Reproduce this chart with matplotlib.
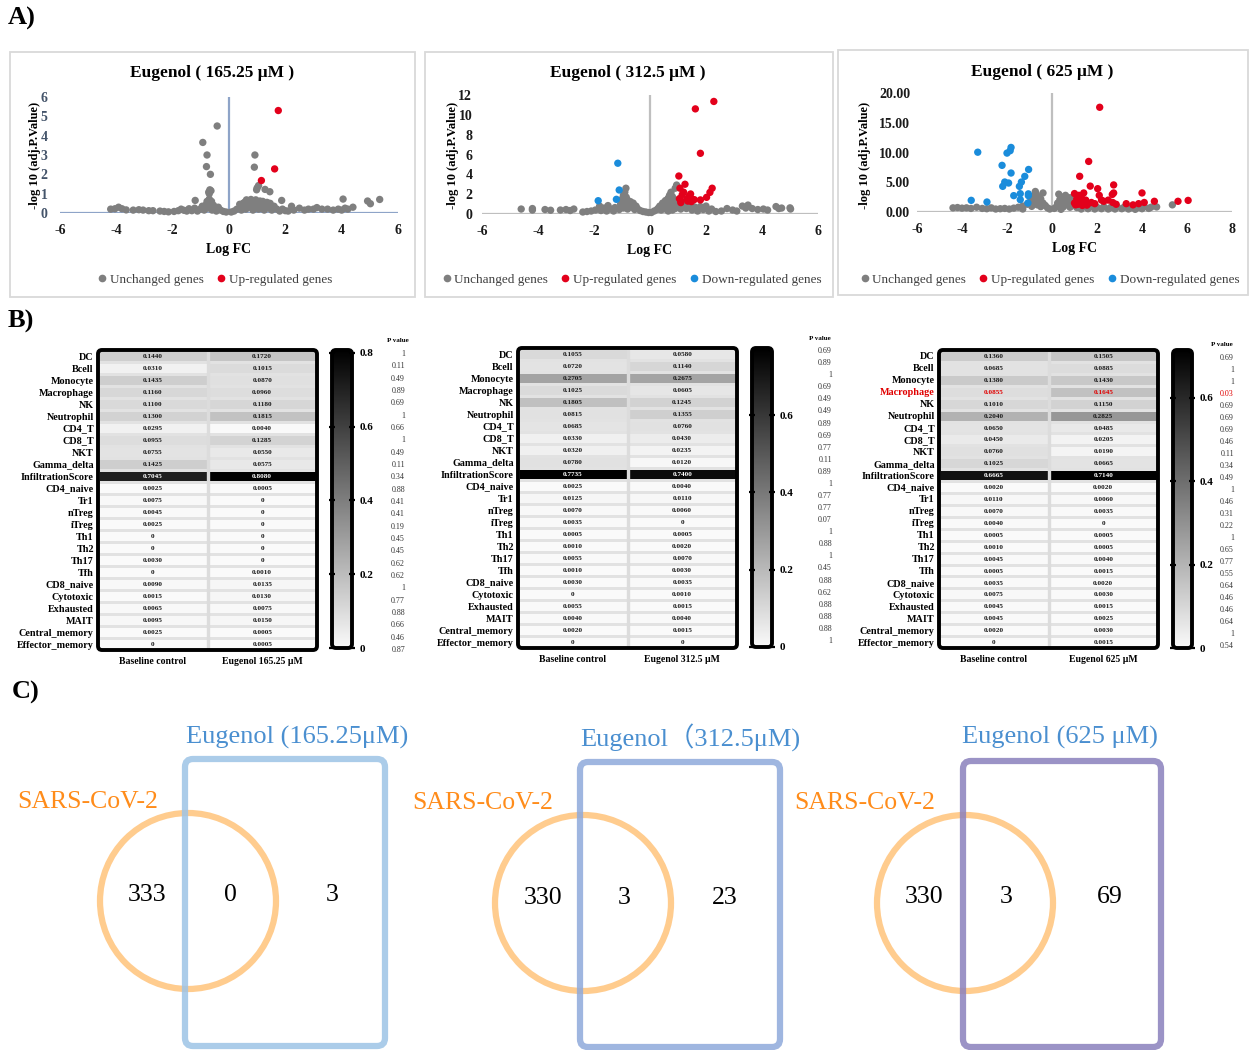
import numpy as np
import matplotlib
matplotlib.use("Agg")
import matplotlib.pyplot as plt
from matplotlib.patches import Circle, FancyBboxPatch, Rectangle
from matplotlib.colors import LinearSegmentedColormap
from matplotlib.lines import Line2D

plt.rcParams['font.family'] = ['Liberation Serif', 'Noto Sans CJK SC', 'DejaVu Sans']
plt.rcParams['axes.unicode_minus'] = False

# ---------------------------------------------------------------- data
# Volcano plots: (logFC, -log10 adj.P) pairs
v1_unchanged = [
    (-0.42, 4.5), (-0.93, 3.65), (-0.78, 3.0), (-0.8, 2.4), (-0.66, 2.0), (-0.68, 1.2),
    (-0.72, 1.08), (-0.64, 1.15), (-0.7, 1.0), (-1.2, 0.65), (0.92, 3.0), (0.9, 2.37),
    (1.05, 1.42), (1.0, 1.3), (0.98, 1.2), (1.28, 1.22), (1.45, 1.1), (1.87, 0.65),
    (4.05, 0.72), (4.92, 0.62), (5.02, 0.48), (5.35, 0.7),
    (-4.2, 0.2), (-4.05, 0.22), (-3.92, 0.3), (-3.8, 0.22), (-3.65, 0.16), (-3.4, 0.15),
    (-3.2, 0.17), (-3.05, 0.15), (-2.85, 0.12), (-2.7, 0.12), (-2.45, 0.1), (-2.3, 0.08),
    (-2.15, 0.06), (-1.95, 0.08), (-1.8, 0.12), (-1.7, 0.2), (-1.6, 0.14), (-1.5, 0.1),
    (-1.42, 0.22), (-1.32, 0.12), (-1.22, 0.25), (-1.12, 0.1), (-1.02, 0.2), (-0.95, 0.35),
    (-0.88, 0.15), (-0.82, 0.42), (-0.76, 0.25), (-0.72, 0.55), (-0.66, 0.32), (-0.6, 0.15),
    (-0.55, 0.4), (-0.5, 0.22), (-0.45, 0.1), (-0.38, 0.3), (-0.3, 0.15), (-0.2, 0.08),
    (-0.1, 0.05), (0.08, 0.05), (0.18, 0.1), (0.28, 0.2), (0.38, 0.45), (0.44, 0.15),
    (0.5, 0.3), (0.55, 0.55), (0.6, 0.2), (0.66, 0.4), (0.7, 0.62), (0.75, 0.3),
    (0.8, 0.5), (0.85, 0.15), (0.88, 0.62), (0.95, 0.35), (1.0, 0.55), (1.05, 0.2),
    (1.1, 0.45), (1.15, 0.3), (1.2, 0.6), (1.25, 0.15), (1.32, 0.4), (1.4, 0.25),
    (1.46, 0.5), (1.52, 0.15), (1.6, 0.35), (1.7, 0.2), (1.8, 0.1), (1.9, 0.2),
    (2.0, 0.12), (2.1, 0.1), (2.22, 0.35), (2.3, 0.15), (2.5, 0.25), (2.68, 0.15),
    (2.82, 0.2), (3.0, 0.2), (3.12, 0.28), (3.3, 0.2), (3.5, 0.2), (3.7, 0.15),
    (3.88, 0.2), (4.0, 0.15), (4.12, 0.25), (4.22, 0.2), (4.4, 0.3),
    (-0.78, 0.6), (-0.7, 0.72), (-0.62, 0.6), (0.62, 0.68), (0.78, 0.7), (0.95, 0.68),
    (1.1, 0.62), (0.5, 0.5), (0.72, 0.45), (0.9, 0.45), (1.2, 0.3), (1.35, 0.55),
]
v1_up = [(1.75, 5.3), (1.62, 2.28), (1.15, 1.68)]
v1_down = []

v2_unchanged = [
    (-0.86, 2.6), (-0.9, 2.2), (-0.95, 1.9), (-0.85, 1.7), (-1.0, 1.5), (-0.8, 1.4),
    (-0.7, 1.25), (-0.6, 1.1), (-0.9, 1.15), (-1.05, 1.0), (-0.75, 0.95), (-0.5, 0.8),
    (-1.5, 0.85), (-1.8, 0.8), (-1.65, 0.6),
    (0.95, 2.92), (0.9, 2.6), (0.75, 2.2), (0.7, 1.9), (0.8, 1.75), (0.65, 1.6),
    (0.85, 1.5), (0.55, 1.35), (0.75, 1.3), (0.95, 1.2), (0.45, 1.1), (0.6, 1.0),
    (0.85, 0.95), (0.35, 0.8), (0.5, 0.7), (0.7, 0.65), (1.0, 0.8), (1.2, 0.9),
    (1.4, 0.85), (1.6, 0.7), (1.8, 0.75), (2.0, 0.8), (2.2, 0.5),
    (-4.6, 0.5), (-4.2, 0.55), (-4.2, 0.4), (-3.75, 0.45), (-3.55, 0.38), (-3.2, 0.4),
    (-3.0, 0.45), (-2.85, 0.35), (-2.72, 0.5), (-2.4, 0.2), (-2.25, 0.25), (-2.1, 0.3),
    (-1.95, 0.4), (-1.75, 0.35), (-1.55, 0.3), (-1.4, 0.5), (-1.25, 0.65), (-1.3, 0.3),
    (-1.1, 0.45), (-0.95, 0.6), (-0.8, 0.5), (-0.65, 0.7), (-0.55, 0.45), (-0.45, 0.55),
    (-0.35, 0.35), (-0.25, 0.25), (-0.15, 0.2), (-0.05, 0.15), (0.05, 0.15), (0.15, 0.3),
    (0.25, 0.45), (0.3, 0.6), (0.4, 0.4), (0.55, 0.5), (0.65, 0.3), (0.8, 0.4),
    (0.9, 0.55), (1.1, 0.5), (1.3, 0.55), (1.5, 0.4), (1.7, 0.3), (1.9, 0.45),
    (2.1, 0.3), (2.35, 0.25), (2.55, 0.3), (2.75, 0.55), (2.95, 0.4), (3.1, 0.3),
    (3.3, 0.8), (3.42, 0.6), (3.5, 0.9), (3.65, 0.55), (3.85, 0.45), (4.05, 0.5),
    (4.2, 0.4), (4.5, 0.75), (4.6, 0.55), (4.7, 0.6), (5.0, 0.62), (5.02, 0.5),
]
v2_up = [
    (2.28, 11.35), (1.62, 10.6), (1.8, 6.12), (1.03, 3.83), (1.25, 3.0), (1.07, 2.6),
    (2.22, 2.6), (2.14, 2.18), (2.02, 1.68), (1.8, 1.42), (1.45, 2.02), (1.4, 1.8),
    (1.32, 1.5), (1.5, 1.5), (1.1, 1.35), (1.05, 1.55), (1.15, 1.95), (1.35, 1.3),
    (1.2, 2.2), (1.48, 1.25), (1.58, 1.45), (1.1, 1.15),
]
v2_down = [(-1.15, 5.12), (-1.1, 2.42), (-1.2, 1.48), (-1.85, 1.34)]

v3_unchanged = [
    (-0.74, 3.45), (-0.4, 3.2), (-0.7, 3.0), (-0.8, 2.7), (-0.6, 2.5), (-0.9, 2.3),
    (-0.5, 2.2), (-0.75, 2.0), (-0.95, 1.8), (-0.6, 1.7), (-0.4, 1.5), (-0.85, 1.4),
    (-1.1, 1.3), (-0.65, 1.2), (-0.3, 1.1), (-1.3, 1.0), (-0.9, 0.95), (-0.5, 0.9),
    (-0.2, 0.7), (-1.5, 0.8), (-0.1, 0.5),
    (0.3, 3.0), (0.6, 2.8), (0.45, 2.5), (0.8, 2.4), (0.35, 2.1), (0.7, 2.0),
    (0.9, 1.9), (0.5, 1.7), (0.25, 1.5), (0.75, 1.5), (1.0, 1.4), (0.4, 1.25),
    (0.6, 1.2), (0.9, 1.1), (1.2, 1.0), (0.2, 0.9), (0.5, 0.85), (0.8, 0.8),
    (1.1, 0.75), (0.1, 0.6), (1.4, 0.9), (1.7, 0.9), (2.0, 0.8), (2.3, 0.9),
    (2.6, 0.75), (2.9, 0.85), (3.2, 0.8), (3.5, 0.7), (3.8, 0.75), (4.1, 0.9),
    (4.4, 0.8), (4.65, 0.85), (5.35, 1.2),
    (-4.4, 0.7), (-4.2, 0.75), (-4.0, 0.65), (-3.8, 0.7), (-3.6, 0.6), (-3.35, 0.8),
    (-3.1, 0.6), (-2.9, 0.55), (-2.7, 0.7), (-2.5, 0.5), (-2.3, 0.55), (-2.1, 0.6),
    (-1.9, 0.5), (-1.7, 0.65), (-1.3, 0.5),
    (1.3, 0.5), (1.6, 0.55), (1.9, 0.5), (2.2, 0.55), (2.5, 0.5), (2.8, 0.5),
    (3.1, 0.55), (3.4, 0.5), (3.7, 0.45), (4.0, 0.55), (4.3, 0.6), (0.4, 0.45),
]
v3_up = [
    (2.12, 17.6), (1.63, 8.5), (1.23, 6.0), (1.7, 4.35), (2.03, 3.92), (2.1, 2.8),
    (2.74, 4.55), (2.74, 3.2), (2.68, 2.95), (4.0, 3.2), (1.41, 3.2), (1.0, 3.1),
    (1.2, 2.8), (1.3, 2.5), (1.0, 1.5), (1.05, 1.2), (1.25, 1.5), (1.4, 1.8),
    (1.6, 1.4), (1.75, 1.6), (1.9, 1.4), (2.3, 1.8), (2.5, 2.0), (2.7, 1.6),
    (2.85, 1.3), (3.3, 1.4), (3.6, 1.2), (3.85, 1.4), (4.1, 1.6), (4.55, 1.8),
    (5.6, 1.8), (6.05, 1.95), (1.15, 1.3), (1.5, 2.0), (1.35, 1.1), (2.2, 2.0),
    (1.1, 2.2), (1.45, 1.4), (1.3, 1.9), (1.55, 1.15),
]
v3_down = [
    (-3.3, 10.05), (-1.82, 10.85), (-1.86, 10.3), (-2.0, 9.9), (-2.22, 7.84), (-1.82, 6.55),
    (-1.04, 7.15), (-1.21, 5.99), (-1.36, 5.04), (-1.45, 4.31), (-2.1, 5.04), (-2.19, 4.31),
    (-1.93, 4.87), (-1.41, 3.08), (-1.05, 2.75), (-1.05, 3.05), (-1.7, 2.75), (-1.41, 2.07),
    (-1.07, 1.51), (-3.59, 1.96), (-2.89, 1.68),
]

volcano_titles = ["Eugenol ( 165.25 μM )", "Eugenol ( 312.5 μM )", "Eugenol ( 625 μM )"]

# Immune infiltration estimates
cell_types = ["DC", "Bcell", "Monocyte", "Macrophage", "NK", "Neutrophil", "CD4_T", "CD8_T",
              "NKT", "Gamma_delta", "InfiltrationScore", "CD4_naive", "Tr1", "nTreg", "iTreg",
              "Th1", "Th2", "Th17", "Tfh", "CD8_naive", "Cytotoxic", "Exhausted", "MAIT",
              "Central_memory", "Effector_memory"]

h1_base = [0.1440, 0.0310, 0.1435, 0.1160, 0.1100, 0.1300, 0.0295, 0.0955, 0.0755, 0.1425,
           0.7045, 0.0025, 0.0075, 0.0045, 0.0025, 0, 0, 0.0030, 0, 0.0090, 0.0015, 0.0065,
           0.0095, 0.0025, 0]
h1_drug = [0.1720, 0.1015, 0.0870, 0.0960, 0.1180, 0.1815, 0.0040, 0.1285, 0.0550, 0.0575,
           0.8080, 0.0005, 0, 0, 0, 0, 0, 0, 0.0010, 0.0135, 0.0130, 0.0075, 0.0150, 0.0005,
           0.0005]
h1_p = ["1", "0.11", "0.49", "0.89", "0.69", "1", "0.66", "1", "0.49", "0.11", "0.34", "0.88",
        "0.41", "0.41", "0.19", "0.45", "0.45", "0.62", "0.62", "1", "0.77", "0.88", "0.66",
        "0.46", "0.87"]

h2_base = [0.1055, 0.0720, 0.2705, 0.1025, 0.1805, 0.0815, 0.0685, 0.0330, 0.0320, 0.0780,
           0.7735, 0.0025, 0.0125, 0.0070, 0.0035, 0.0005, 0.0010, 0.0055, 0.0010, 0.0030, 0,
           0.0055, 0.0040, 0.0020, 0]
h2_drug = [0.0580, 0.1140, 0.2675, 0.0605, 0.1245, 0.1355, 0.0760, 0.0430, 0.0235, 0.0120,
           0.7400, 0.0040, 0.0110, 0.0060, 0, 0.0005, 0.0020, 0.0070, 0.0030, 0.0035, 0.0010,
           0.0015, 0.0040, 0.0015, 0]
h2_p = ["0.69", "0.89", "1", "0.69", "0.49", "0.49", "0.89", "0.69", "0.77", "0.11", "0.89",
        "1", "0.77", "0.77", "0.07", "1", "0.88", "1", "0.45", "0.88", "0.62", "0.88", "0.88",
        "0.88", "1"]

h3_base = [0.1360, 0.0685, 0.1380, 0.0855, 0.1010, 0.2040, 0.0650, 0.0450, 0.0760, 0.1025,
           0.6665, 0.0020, 0.0110, 0.0070, 0.0040, 0.0005, 0.0010, 0.0045, 0.0005, 0.0035,
           0.0075, 0.0045, 0.0045, 0.0020, 0]
h3_drug = [0.1505, 0.0885, 0.1430, 0.1645, 0.1150, 0.2825, 0.0485, 0.0205, 0.0190, 0.0665,
           0.7140, 0.0020, 0.0060, 0.0035, 0, 0.0005, 0.0005, 0.0040, 0.0015, 0.0020, 0.0030,
           0.0015, 0.0025, 0.0030, 0.0015]
h3_p = ["0.69", "1", "1", "0.03", "0.69", "0.69", "0.69", "0.46", "0.11", "0.34", "0.49", "1",
        "0.46", "0.31", "0.22", "1", "0.65", "0.77", "0.55", "0.64", "0.46", "0.46", "0.64",
        "1", "0.54"]

heat_columns = [["Baseline control", "Eugenol 165.25 μM"],
                ["Baseline control", "Eugenol 312.5 μM"],
                ["Baseline control", "Eugenol 625 μM"]]

# Venn counts
venn_sets = ["Eugenol (165.25μM)", "Eugenol（312.5μM)", "Eugenol (625 μM)"]
sars_only = [333, 330, 330]
shared = [0, 3, 3]
eugenol_only = [3, 23, 69]

# ---------------------------------------------------------------- figure
W, H = 1252, 1050
fig = plt.figure(figsize=(W / 100, H / 100), dpi=100)


def px_axes(x0, y0, x1, y1, **kw):
    return fig.add_axes([x0 / W, 1 - y1 / H, (x1 - x0) / W, (y1 - y0) / H], **kw)


bg = px_axes(0, 0, W, H)
bg.set_xlim(0, W)
bg.set_ylim(H, 0)
bg.axis('off')

GRAY, RED, BLUE = '#7F7F7F', '#E3001B', '#1A8CDB'

# panel frames
for (x0, y0, x1, y1) in [(10, 52, 415, 297), (425, 52, 833, 297), (838, 50, 1248, 295)]:
    bg.add_patch(Rectangle((x0, y0), x1 - x0, y1 - y0, fill=False, ec='#D9D9D9', lw=1.3))

for txt, (x, y) in zip(["A)", "B)", "C)"], [(8, 18), (8, 321), (12, 692)]):
    bg.text(x, y, txt, fontsize=19, fontweight='bold', ha='left', va='center')

volcano_specs = [
    dict(box=(60, 97, 398, 213), data=(v1_unchanged, v1_up, v1_down), xlim=(-6, 6),
         xticks=range(-6, 7, 2), ylim=(0, 6), yticks=range(0, 7), yfmt="{:.0f}",
         axc='#8EA4C8', ytc='#44546A', title=(212, 73), ylab=(35, 155), leg=(215, 280),
         ypad=9),
    dict(box=(482, 95, 818, 214), data=(v2_unchanged, v2_up, v2_down), xlim=(-6, 6),
         xticks=range(-6, 7, 2), ylim=(0, 12), yticks=range(0, 13, 2), yfmt="{:.0f}",
         axc='#BFBFBF', ytc='#1a1a1a', title=(628, 73), ylab=(453, 155), leg=(632, 280),
         ypad=7),
    dict(box=(917, 93, 1232, 212), data=(v3_unchanged, v3_up, v3_down), xlim=(-6, 8),
         xticks=range(-6, 9, 2), ylim=(0, 20), yticks=range(0, 21, 5), yfmt="{:.2f}",
         axc='#BFBFBF', ytc='#1a1a1a', title=(1042, 72), ylab=(865, 155), leg=(1050, 280),
         ypad=5),
]

for spec, title in zip(volcano_specs, volcano_titles):
    ax = px_axes(*spec['box'])
    unchanged, up, down = spec['data']
    for pts, col in [(unchanged, GRAY), (up, RED), (down, BLUE)]:
        if pts:
            ax.scatter([p[0] for p in pts], [p[1] for p in pts], s=28, color=col,
                       edgecolors='none', clip_on=False, zorder=3)
    ax.set_xlim(spec['xlim'])
    ax.set_ylim(spec['ylim'])
    for s in ax.spines.values():
        s.set_visible(False)
    ax.axhline(0, color=spec['axc'], lw=1.6, zorder=1)
    ax.axvline(0, color=spec['axc'], lw=1.6, zorder=1)
    ax.set_xticks(list(spec['xticks']))
    ax.set_yticks(list(spec['yticks']))
    ax.set_yticklabels([spec['yfmt'].format(v) for v in spec['yticks']])
    ax.tick_params(axis='both', length=0, labelsize=10)
    ax.tick_params(axis='x', pad=8, labelcolor='#1a1a1a')
    ax.tick_params(axis='y', pad=spec['ypad'], labelcolor=spec['ytc'])
    for lab in ax.get_xticklabels() + ax.get_yticklabels():
        lab.set_fontweight('bold')
    ax.set_xlabel("Log FC", fontsize=10, fontweight='bold', labelpad=4)
    bg.text(*spec['title'], title, fontsize=12.5, fontweight='bold', ha='center', va='center')
    bg.text(*spec['ylab'], "-log 10 (adj.P.Value)", fontsize=9, fontweight='bold',
            rotation=90, ha='center', va='center')
    handles = [Line2D([], [], marker='o', ls='none', color=GRAY, markersize=4.5,
                      label='Unchanged genes'),
               Line2D([], [], marker='o', ls='none', color=RED, markersize=4.5,
                      label='Up-regulated genes')]
    if down:
        handles.append(Line2D([], [], marker='o', ls='none', color=BLUE, markersize=4.5,
                              label='Down-regulated genes'))
    ax.legend(handles=handles, loc='center', ncol=len(handles), frameon=False,
              bbox_to_anchor=(spec['leg'][0] / W, 1 - spec['leg'][1] / H),
              bbox_transform=fig.transFigure, fontsize=9.5, handletextpad=0.3,
              columnspacing=1.0, handlelength=0.6, labelcolor='#404040')

# ---------------------------------------------------------------- heatmaps
cmap = LinearSegmentedColormap.from_list('wb', ['#FAFAFA', '#000000'])
fg_items = []

heat_specs = [
    dict(grid=(98, 350, 317, 650), cb=(332, 350, 352, 648), base=h1_base, drug=h1_drug,
         p=h1_p, pv=(354, 650, 405), head=(398, 341), red=()),
    dict(grid=(518, 348, 737, 648), cb=(752, 348, 772, 647), base=h2_base, drug=h2_drug,
         p=h2_p, pv=(351, 641, 832), head=(820, 339), red=()),
    dict(grid=(939, 350, 1158, 648), cb=(1173, 350, 1192, 648), base=h3_base, drug=h3_drug,
         p=h3_p, pv=(358, 646, 1234), head=(1222, 345), red=("Macrophage",)),
]

n = len(cell_types)
for spec, cols in zip(heat_specs, heat_columns):
    data = np.column_stack([spec['base'], spec['drug']])
    vmax = data.max()
    ax = px_axes(*spec['grid'])
    ax.pcolormesh(np.arange(3), np.arange(n + 1), data, cmap=cmap, vmin=0, vmax=vmax,
                  edgecolors='#E2E2E2', linewidth=0.9)
    ax.axvline(1, color='#DCDCDC', lw=2.4)
    ax.set_xlim(0, 2)
    ax.set_ylim(n, 0)
    for s in ax.spines.values():
        s.set_visible(False)
    ax.set_xticks([])
    ax.set_yticks(np.arange(n) + 0.5)
    ax.set_yticklabels(cell_types)
    ax.tick_params(axis='y', length=0, pad=3, labelsize=7.3)
    for lab in ax.get_yticklabels():
        lab.set_fontweight('bold')
        if lab.get_text() in spec['red']:
            lab.set_color('#E00000')
    for i, name in enumerate(cell_types):
        for j in range(2):
            v = data[i, j]
            txt = "0" if v == 0 else f"{v:.4f}"
            col = 'white' if v / vmax > 0.5 else '#1a1a1a'
            if name in spec['red']:
                col = '#E00000'
            ax.text(j + 0.5, i + 0.55, txt, ha='center', va='center', fontsize=5.2,
                    fontweight='bold', color=col)
    for j, c in enumerate(cols):
        ax.text(j + 0.5, n + 1.0, c, ha='center', va='center', fontsize=7,
                fontweight='bold')

    # colour bar
    cax = px_axes(*spec['cb'])
    grad = np.linspace(0, vmax, 256)[:, None]
    cax.imshow(grad, aspect='auto', cmap=cmap, vmin=0, vmax=vmax, origin='lower',
               extent=[0, 1, 0, vmax])
    cax.set_xlim(0, 1)
    cax.set_ylim(0, vmax)
    for s in cax.spines.values():
        s.set_visible(False)
    cax.set_xticks([])
    ticks = [t for t in [0, 0.2, 0.4, 0.6, 0.8] if t <= vmax]
    cax.yaxis.tick_right()
    cax.set_yticks(ticks)
    cax.set_yticklabels(["0" if t == 0 else f"{t:.1f}" for t in ticks])
    cax.tick_params(axis='y', direction='inout', length=5, width=1.6, labelsize=8, pad=3,
                    left=True)
    for lab in cax.get_yticklabels():
        lab.set_fontweight('bold')

    # P values
    y0, y1, xr = spec['pv']
    bg.text(spec['head'][0], spec['head'][1], "P value", fontsize=5, fontweight='bold',
            ha='center', va='center')
    for name, pv, yy in zip(cell_types, spec['p'], np.linspace(y0, y1, n)):
        bg.text(xr, yy, pv, fontsize=5.8, ha='right', va='center',
                color='#E00000' if name in spec['red'] else '#333333')

    fg_items.append(spec['grid'])
    fg_items.append(spec['cb'])

# foreground overlay for rounded borders and the Venn diagrams
fg = px_axes(0, 0, W, H)
fg.set_xlim(0, W)
fg.set_ylim(H, 0)
fg.axis('off')
fg.patch.set_alpha(0)

for (x0, y0, x1, y1) in fg_items:
    fg.add_patch(FancyBboxPatch((x0, y0), x1 - x0, y1 - y0,
                                boxstyle="round,pad=0,rounding_size=4",
                                fill=False, ec='black', lw=2.8))

# ---------------------------------------------------------------- Venn diagrams
venn_layout = [
    dict(circle=(188, 901, 88), rect=(185, 759, 385, 1046), rc='#9DC3E6',
         title=(297, 737), sars=(88, 802), nums=((147, 895), (230, 895), (332, 895))),
    dict(circle=(583, 903, 88), rect=(580, 762, 780, 1047), rc='#8EA9DB',
         title=(690, 738), sars=(483, 803), nums=((543, 898), (624, 898), (725, 898))),
    dict(circle=(965, 903, 88), rect=(963, 761, 1161, 1047), rc='#8A80BC',
         title=(1060, 737), sars=(865, 803), nums=((924, 897), (1006, 897), (1110, 897))),
]

for lay, label, a, b, c in zip(venn_layout, venn_sets, sars_only, shared, eugenol_only):
    cx, cy, r = lay['circle']
    fg.add_patch(Circle((cx, cy), r, fill=False, ec='#FFC37A', lw=4.5, alpha=0.85))
    x0, y0, x1, y1 = lay['rect']
    fg.add_patch(FancyBboxPatch((x0, y0), x1 - x0, y1 - y0,
                                boxstyle="round,pad=0,rounding_size=8",
                                fill=False, ec=lay['rc'], lw=4.5, alpha=0.85))
    fg.text(*lay['title'], label, fontsize=19, color='#4A8FD0', ha='center', va='center')
    fg.text(*lay['sars'], "SARS-CoV-2", fontsize=18.5, color='#FF8C1A', ha='center',
            va='center')
    for (x, y), v in zip(lay['nums'], (a, b, c)):
        fg.text(x, y, str(v), fontsize=18.5, color='black', ha='center', va='center')

fig.savefig("out.png", dpi=100, facecolor='white')
